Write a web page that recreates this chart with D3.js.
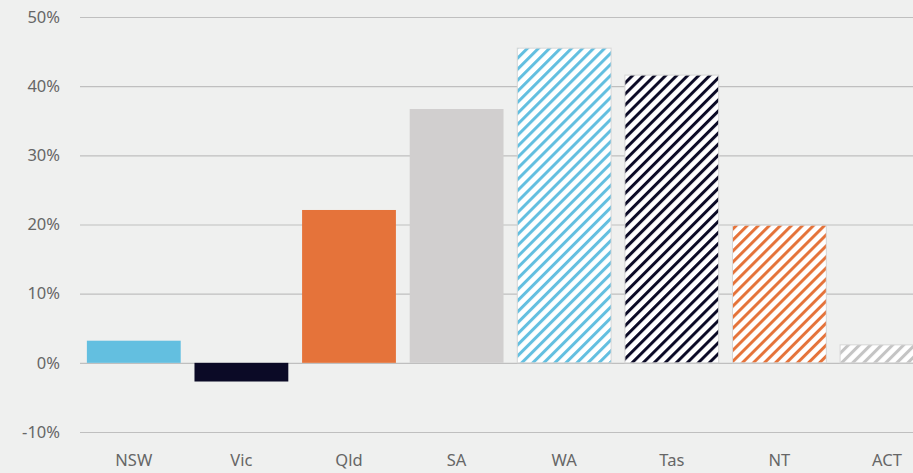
<!DOCTYPE html>
<html lang="en">
<head>
    <meta charset="UTF-8">
    <title>State change</title>
    <style>
        body { margin: 0; background: #eff0ef; overflow: hidden; }
        svg { display: block; }
        .tick text { font-family: "Noto Sans", sans-serif; font-size: 16.5px; fill: #666666; }
    </style>
    <script src="https://cdnjs.cloudflare.com/ajax/libs/d3/7.8.5/d3.min.js"></script>
</head>
<body>
<div id="wrapper"></div>
<script>
const states = ["NSW", "Vic", "Qld", "SA", "WA", "Tas", "NT", "ACT"];
const values = [3.2, -2.7, 22.1, 36.7, 45.5, 41.6, 19.9, 2.6];
const colours = ["#63bfe0", "#0b0a26", "#e5733a", "#d1cfcf", "#63bfe0", "#0b0a26", "#e5733a", "#c4c4c4"];
const hatched = [false, false, false, false, true, true, true, true];
const yTicks = [-10, 0, 10, 20, 30, 40, 50];

const width = 913, height = 473;

const svg = d3.select("#wrapper").append("svg")
    .attr("width", width)
    .attr("height", height);

const x = d3.scaleBand()
    .domain(states)
    .range([80, 80 + 8 * 107.6])
    .paddingInner(0.128)
    .paddingOuter(0.064);

const y = d3.scaleLinear()
    .domain([-10, 50])
    .range([432, 17]);

// hatch patterns
const defs = svg.append("defs");
states.forEach((s, i) => {
    if (!hatched[i]) return;
    const p = defs.append("pattern")
        .attr("id", "hatch" + i)
        .attr("patternUnits", "userSpaceOnUse")
        .attr("width", 7.8)
        .attr("height", 7.8)
        .attr("patternTransform", "rotate(45)");
    p.append("rect").attr("width", 7.8).attr("height", 7.8).attr("fill", "#ffffff");
    p.append("rect").attr("x", 0).attr("width", 3).attr("height", 7.8).attr("fill", colours[i]);
});

// gridlines
const yAxis = svg.append("g")
    .attr("transform", "translate(80,0)")
    .call(d3.axisLeft(y).tickValues(yTicks).tickSize(-(width - 80)).tickPadding(20).tickFormat(d => d + "%"));
yAxis.select(".domain").remove();
yAxis.selectAll(".tick line").attr("stroke", "#bfbfbf").attr("stroke-width", 1.2);

// bars
svg.append("g").selectAll("rect")
    .data(values)
    .join("rect")
    .attr("x", (d, i) => x(states[i]))
    .attr("y", d => y(Math.max(0, d)))
    .attr("width", x.bandwidth())
    .attr("height", d => Math.abs(y(d) - y(0)))
    .attr("fill", (d, i) => hatched[i] ? `url(#hatch${i})` : colours[i])
    .attr("stroke", (d, i) => hatched[i] ? "#d6d6d6" : "none")
    .attr("stroke-width", 1);

// x labels
const xAxis = svg.append("g")
    .attr("transform", "translate(0,449)")
    .call(d3.axisBottom(x).tickSize(0).tickPadding(5));
xAxis.select(".domain").remove();
</script>
</body>
</html>
